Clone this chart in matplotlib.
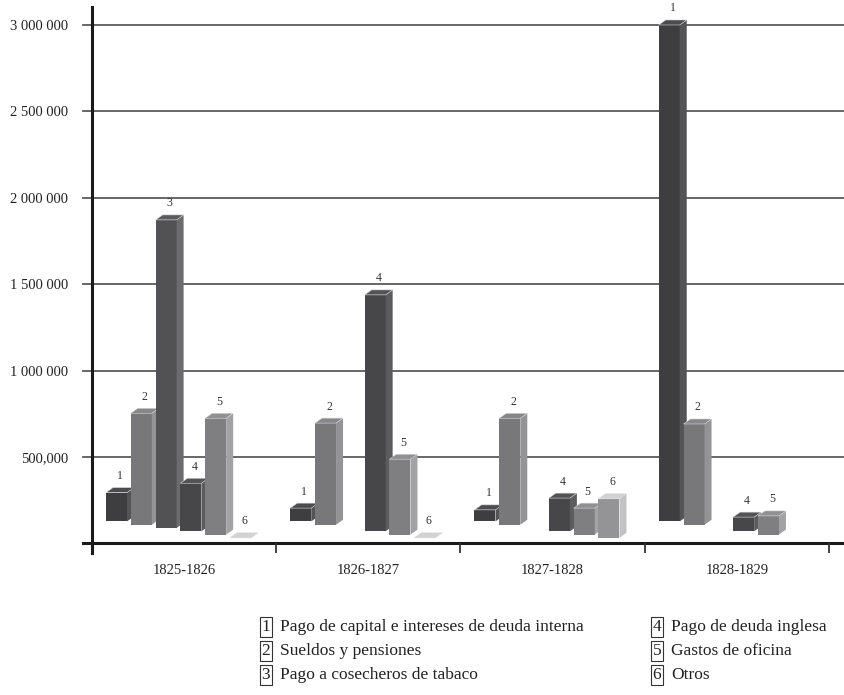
import matplotlib
matplotlib.use("Agg")
import matplotlib.pyplot as plt
from matplotlib.patches import Polygon, Rectangle

plt.rcParams.update({"font.family": ["Liberation Serif", "DejaVu Serif"],
                     "font.size": 10.5})

PERIODS = ["1825-1826", "1826-1827", "1827-1828", "1828-1829"]
SERIES = ["Pago de capital e intereses de deuda interna",
          "Sueldos y pensiones",
          "Pago a cosecheros de tabaco",
          "Pago de deuda inglesa",
          "Gastos de oficina",
          "Otros"]
# pesos por periodo; None = sin dato
CAPITAL_INTERNA = [294000, 204000, 194000, 3000000]
SUELDOS = [753000, 696000, 724000, 691000]
TABACO = [1872000, None, None, None]
DEUDA_INGLESA = [348000, 1438000, 262000, 152000]
OFICINA = [724000, 487000, 204000, 159000]
OTROS = [0, 0, 258000, None]
VALUES = [CAPITAL_INTERNA, SUELDOS, TABACO, DEUDA_INGLESA, OFICINA, OTROS]

YTICKS = [500000, 1000000, 1500000, 2000000, 2500000, 3000000]
YLABELS = ["500,000", "1 000 000", "1 500 000", "2 000 000", "2 500 000",
           "3 000 000"]

# (front, side, top) greys per series
SHADES = [("#3e3e40", "#545456", "#4c4c4e"),
          ("#78787b", "#949497", "#87878a"),
          ("#525254", "#6c6c6e", "#5c5c5e"),
          ("#47474a", "#5c5c5e", "#535355"),
          ("#7f7f82", "#a2a2a5", "#909093"),
          ("#949496", "#c2c2c4", "#d2d2d4")]

W_PX, H_PX = 845, 695
fig = plt.figure(figsize=(W_PX / 100, H_PX / 100), dpi=100)
ax = fig.add_axes([92 / W_PX, 1 - 553 / H_PX, 753 / W_PX, 546 / H_PX])
ax.set_xlim(0, 4.087)
ax.set_ylim(-55600, 3104000)

# data units per pixel, for the fake depth of the columns
bb = ax.get_window_extent()
ux = 4.087 / bb.width
uy = (3104000 + 55600) / bb.height
DX, DY = 7 * ux, 5 * uy
BAR_W = 21 * ux
PITCH = 24.8 * ux
OFFSET = 14 * ux
FLOOR, FLOOR_STEP = 127000, 19000   # sloping floor of the perspective


def bar3d(x, base, top, shades, z):
    front, side, lid = shades
    top = max(top, base)
    ax.add_patch(Rectangle((x, base), BAR_W, top - base, fc=front,
                           ec="none", zorder=z))
    ax.add_patch(Polygon([(x + BAR_W, base), (x + BAR_W + DX, base + DY),
                          (x + BAR_W + DX, top + DY), (x + BAR_W, top)],
                         fc=side, ec="none", zorder=z))
    ax.add_patch(Polygon([(x, top), (x + DX, top + DY),
                          (x + BAR_W + DX, top + DY), (x + BAR_W, top)],
                         fc=lid, ec="#d8d8d8", lw=0.4, zorder=z))


# gridlines with their short outside ticks
trans = ax.get_yaxis_transform()
for v in YTICKS:
    ax.plot([-9 / 753, 1], [v, v], color="#5a5a5a", lw=1.3,
            transform=trans, clip_on=False, zorder=1)
ax.plot([-9 / 753, 1], [0, 0], color="#1a1a1a", lw=2.2,
        transform=trans, clip_on=False, zorder=6)
ax.vlines(range(1, len(PERIODS) + 1), ax.get_ylim()[0], 0, color="#333",
          lw=1.3, zorder=6)

z = 2
for g in range(len(PERIODS)):
    for i, vals in enumerate(VALUES):
        v = vals[g]
        if v is None:
            continue
        x = g + OFFSET + i * PITCH
        base = FLOOR - FLOOR_STEP * i
        top = max(v, base)
        bar3d(x, base, top, SHADES[i], z)
        ax.annotate(str(i + 1), (x + (BAR_W + DX) / 2, top + DY),
                    xytext=(0, 4), textcoords="offset points",
                    ha="center", va="bottom", fontsize=8.5, color="#333",
                    zorder=z)
        z += 1

for s in ("top", "right", "bottom"):
    ax.spines[s].set_visible(False)
ax.spines["left"].set_linewidth(2.2)
ax.spines["left"].set_color("#1a1a1a")
ax.spines["left"].set_zorder(7)

ax.set_yticks(YTICKS)
ax.set_yticklabels(YLABELS, fontsize=10.5, color="#222")
ax.tick_params(axis="y", length=0, pad=17)
ax.set_xticks([g + 0.5 for g in range(len(PERIODS))])
ax.set_xticklabels(PERIODS, fontsize=10.5, color="#222")
ax.tick_params(axis="x", length=0, pad=8)

# numbered key below the chart
for k, name in enumerate(SERIES):
    col, row = divmod(k, 3)
    bx = (266, 657)[col]
    tx = (280, 671)[col]
    y = 1 - (627 + 24 * row) / H_PX
    fig.text(bx / W_PX, y, str(k + 1), ha="center", va="center",
             fontsize=12.5, color="#222",
             bbox=dict(boxstyle="square,pad=0.12", fc="white", ec="#333",
                       lw=0.8))
    fig.text(tx / W_PX, y, name, ha="left", va="center", fontsize=12.5,
             color="#222")

fig.savefig("out.png", dpi=100, facecolor="white")
